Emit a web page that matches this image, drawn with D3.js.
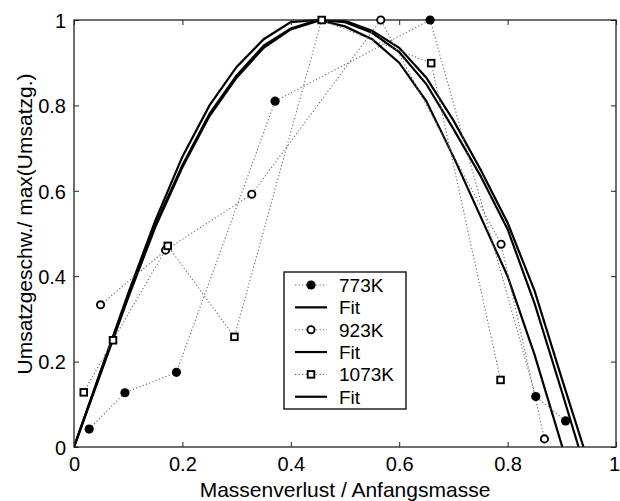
<!DOCTYPE html>
<html>
<head>
<meta charset="utf-8">
<script src="https://cdn.jsdelivr.net/npm/d3@7"></script>
<style>
html,body{margin:0;padding:0;background:#fff;}
svg{display:block;font-family:"Liberation Sans",Arial,Helvetica,sans-serif;}
</style>
</head>
<body>
<svg id="chart" width="620" height="501"></svg>
<script>
// ---- data ----
const series773X = [0.028, 0.094, 0.189, 0.371, 0.657, 0.852, 0.907];
const series773Y = [0.042, 0.127, 0.175, 0.810, 1.000, 0.118, 0.061];
const series923X = [0.049, 0.169, 0.328, 0.566, 0.788, 0.868];
const series923Y = [0.333, 0.461, 0.592, 1.000, 0.475, 0.019];
const series1073X = [0.018, 0.072, 0.173, 0.296, 0.457, 0.659, 0.787];
const series1073Y = [0.128, 0.250, 0.471, 0.258, 1.000, 0.899, 0.157];

const fitAX = [0, 0.05, 0.10, 0.15, 0.20, 0.25, 0.30, 0.35, 0.40, 0.45, 0.50, 0.55, 0.60, 0.65, 0.70, 0.75, 0.80, 0.85, 0.901];
const fitAY = [0, 0.18, 0.36, 0.53, 0.68, 0.80, 0.89, 0.955, 0.995, 1.0, 0.985, 0.955, 0.90, 0.81, 0.68, 0.54, 0.40, 0.215, 0];
const fitBX = [0, 0.05, 0.10, 0.15, 0.20, 0.25, 0.30, 0.35, 0.40, 0.45, 0.50, 0.55, 0.60, 0.65, 0.70, 0.75, 0.80, 0.85, 0.90, 0.931];
const fitBY = [0, 0.18, 0.355, 0.52, 0.66, 0.78, 0.87, 0.94, 0.98, 1.0, 0.995, 0.97, 0.925, 0.85, 0.745, 0.635, 0.51, 0.335, 0.13, 0];
const fitCX = [0, 0.05, 0.10, 0.15, 0.20, 0.25, 0.30, 0.35, 0.40, 0.45, 0.50, 0.55, 0.60, 0.65, 0.70, 0.75, 0.80, 0.85, 0.90, 0.940];
const fitCY = [0, 0.175, 0.35, 0.515, 0.655, 0.775, 0.865, 0.935, 0.978, 0.998, 0.998, 0.975, 0.935, 0.865, 0.765, 0.65, 0.525, 0.365, 0.16, 0];

const xTicks = [0, 0.2, 0.4, 0.6, 0.8, 1];
const yTicks = [0, 0.2, 0.4, 0.6, 0.8, 1];
const xTickLabels = ["0", "0.2", "0.4", "0.6", "0.8", "1"];
const yTickLabels = ["0", "0.2", "0.4", "0.6", "0.8", "1"];
const legendLabels = ["773K", "Fit", "923K", "Fit", "1073K", "Fit"];
const xLabel = "Massenverlust / Anfangsmasse";
const yLabel = "Umsatzgeschw./ max(Umsatzg.)";

// ---- layout ----
const L = 74, R = 616, T = 20, B = 447;
const svg = d3.select("#chart");
const x = d3.scaleLinear().domain([0, 1]).range([L, R]);
const y = d3.scaleLinear().domain([0, 1]).range([B, T]);

const zip = (xs, ys) => xs.map((v, i) => [v, ys[i]]);
const line = d3.line().x(d => x(d[0])).y(d => y(d[1]));

svg.append("clipPath").attr("id", "clip")
  .append("rect").attr("x", L).attr("y", T - 1).attr("width", R - L).attr("height", B - T + 1);

const dotStyle = sel => sel.attr("fill", "none").attr("stroke", "#6a6a6a")
  .attr("stroke-width", 1.1).attr("stroke-dasharray", "1.2,2.3");

// fits
[[fitAX, fitAY], [fitBX, fitBY], [fitCX, fitCY]].forEach(([xs, ys]) => {
  svg.append("path").datum(zip(xs, ys)).attr("d", line)
    .attr("fill", "none").attr("stroke", "#000").attr("stroke-width", 2.2)
    .attr("stroke-linejoin", "miter").attr("clip-path", "url(#clip)");
});

// data dotted lines
const dataSets = [
  {pts: zip(series773X, series773Y), m: "fcircle"},
  {pts: zip(series923X, series923Y), m: "ocircle"},
  {pts: zip(series1073X, series1073Y), m: "square"}
];
dataSets.forEach(s => {
  svg.append("path").datum(s.pts).attr("d", line).call(dotStyle);
});

// axes box and ticks
const axisCol = "#222";
function drawMarker(g, type, cx, cy) {
  if (type === "fcircle") {
    g.append("circle").attr("cx", cx).attr("cy", cy).attr("r", 4.6).attr("fill", "#000");
  } else if (type === "ocircle") {
    g.append("circle").attr("cx", cx).attr("cy", cy).attr("r", 3.6)
      .attr("fill", "#fff").attr("stroke", "#000").attr("stroke-width", 1.9);
  } else {
    g.append("rect").attr("x", cx - 3.3).attr("y", cy - 3.3).attr("width", 6.6).attr("height", 6.6)
      .attr("fill", "#fff").attr("stroke", "#000").attr("stroke-width", 1.9);
  }
}

const axB = d3.axisBottom(x).tickValues(xTicks).tickSize(-5).tickFormat((d, i) => xTickLabels[i]).tickPadding(10);
const axT = d3.axisTop(x).tickValues(xTicks).tickSize(-5).tickFormat("");
const axL = d3.axisLeft(y).tickValues(yTicks).tickSize(-5).tickFormat((d, i) => yTickLabels[i]).tickPadding(8);
const axR = d3.axisRight(y).tickValues(yTicks).tickSize(-5).tickFormat("");

function styleAxis(g) {
  g.select(".domain").attr("stroke", "none");
  g.selectAll(".tick line").attr("stroke", axisCol).attr("stroke-width", 1);
  g.selectAll(".tick text").attr("fill", "#000").attr("font-size", 20)
    .attr("font-family", "Liberation Sans, Arial, sans-serif");
}
const gB = svg.append("g").attr("transform", `translate(0,${B})`).call(axB).call(styleAxis);
gB.selectAll(".tick text").filter(d => d === 1).attr("dx", -2);
svg.append("g").attr("transform", `translate(0,${T})`).call(axT).call(styleAxis);
svg.append("g").attr("transform", `translate(${L},0)`).call(axL).call(styleAxis)
  .selectAll(".tick text").attr("dy", "0.36em");
svg.append("g").attr("transform", `translate(${R},0)`).call(axR).call(styleAxis);

svg.append("rect").attr("x", L).attr("y", T).attr("width", R - L).attr("height", B - T)
  .attr("fill", "none").attr("stroke", axisCol).attr("stroke-width", 1.3);

// markers on top
dataSets.forEach(s => {
  const g = svg.append("g");
  s.pts.forEach(p => drawMarker(g, s.m, x(p[0]), y(p[1])));
});

// axis labels
svg.append("text").attr("x", (L + R) / 2).attr("y", 497).attr("text-anchor", "middle")
  .attr("font-size", 21).attr("fill", "#000").text(xLabel);
svg.append("text").attr("transform", "translate(32,224) rotate(-90)").attr("text-anchor", "middle")
  .attr("font-size", 21).attr("fill", "#000").text(yLabel);

// legend
const lg = svg.append("g");
lg.append("rect").attr("x", 284).attr("y", 272).attr("width", 122).attr("height", 137)
  .attr("fill", "#fff").attr("stroke", "#000").attr("stroke-width", 1.3);
const legendMarkers = ["fcircle", null, "ocircle", null, "square", null];
const ly0 = 285, lStep = 22.35;
legendLabels.forEach((lab, i) => {
  const yy = ly0 + i * lStep;
  const mk = legendMarkers[i];
  if (mk) {
    lg.append("line").attr("x1", 295).attr("x2", 327).attr("y1", yy).attr("y2", yy).call(dotStyle);
    drawMarker(lg, mk, 311, yy);
  } else {
    lg.append("line").attr("x1", 295).attr("x2", 327).attr("y1", yy).attr("y2", yy)
      .attr("stroke", "#000").attr("stroke-width", 2.2);
  }
  lg.append("text").attr("x", 339).attr("y", yy).attr("dy", "0.36em")
    .attr("font-size", 19).attr("fill", "#000").text(lab);
});
</script>
</body>
</html>
